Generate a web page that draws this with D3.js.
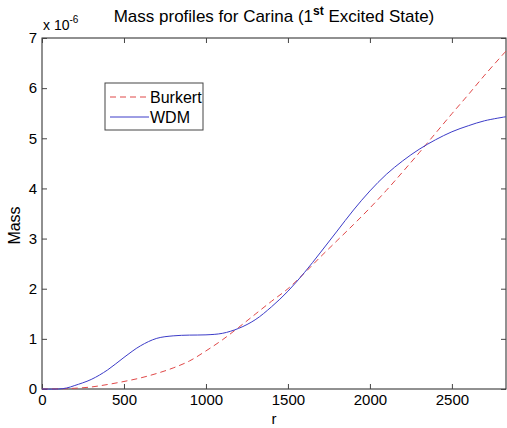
<!DOCTYPE html>
<html><head><meta charset="utf-8">
<script src="https://cdn.jsdelivr.net/npm/d3@7"></script>
<style>
body{margin:0;background:#fff;}
text{font-family:"Liberation Sans",Arial,Helvetica,sans-serif;fill:#000;}
</style></head>
<body>
<svg id="c" width="507" height="428"></svg>
<script>
const rVals = [0,100,150,200,300,400,500,600,700,800,900,1000,1100,1200,1300,1400,1500,1600,1700,1800,1900,2000,2100,2200,2300,2400,2500,2600,2700,2830];
const burkert = [0,0.003,0.008,0.015,0.04,0.09,0.15,0.22,0.31,0.42,0.56,0.76,0.98,1.23,1.49,1.75,2.00,2.31,2.64,2.96,3.28,3.61,3.96,4.33,4.71,5.10,5.49,5.87,6.26,6.74];
const wdm = [0,0,0.02,0.07,0.19,0.38,0.63,0.86,1.01,1.06,1.075,1.08,1.11,1.21,1.38,1.64,1.95,2.32,2.73,3.15,3.57,3.95,4.28,4.55,4.78,4.97,5.13,5.25,5.35,5.43];
const xTicks = [0,500,1000,1500,2000,2500];
const yTicks = [0,1,2,3,4,5,6,7];
const seriesNames = ["Burkert","WDM"];

const svg = d3.select("#c");
const L=42, R=506, T=38, B=389;
const x = d3.scaleLinear().domain([0,2830]).range([L,R]);
const y = d3.scaleLinear().domain([0,7]).range([B,T]);

const fs = 15;
svg.append("rect").attr("x",L).attr("y",T).attr("width",R-L).attr("height",B-T)
  .attr("fill","none").attr("stroke","#222").attr("stroke-width",1);

const ax = svg.append("g").attr("transform",`translate(0,${B})`)
  .call(d3.axisBottom(x).tickValues(xTicks).tickSize(-5).tickPadding(5).tickFormat(d3.format("d")));
const axT = svg.append("g").attr("transform",`translate(0,${T})`)
  .call(d3.axisTop(x).tickValues(xTicks).tickSize(-5).tickFormat(""));
const ay = svg.append("g").attr("transform",`translate(${L},0)`)
  .call(d3.axisLeft(y).tickValues(yTicks).tickSize(-5).tickPadding(5).tickFormat(d3.format("d")));
const ayR = svg.append("g").attr("transform",`translate(${R},0)`)
  .call(d3.axisRight(y).tickValues(yTicks).tickSize(-5).tickFormat(""));
[ax,axT,ay,ayR].forEach(g=>{
  g.select(".domain").remove();
  g.selectAll(".tick line").attr("stroke","#444");
  g.selectAll("text").style("font-size",fs+"px").attr("fill","#000");
});
ax.selectAll(".tick text").attr("dy","0.71em");

const line = d3.line().x((d,i)=>x(rVals[i])).y(d=>y(d)).curve(d3.curveCatmullRom.alpha(0.5));
svg.append("path").datum(burkert).attr("d",line).attr("fill","none")
  .attr("stroke","#e04848").attr("stroke-width",1).attr("stroke-dasharray","6,4");
svg.append("path").datum(wdm).attr("d",line).attr("fill","none")
  .attr("stroke","#3c3cc8").attr("stroke-width",1);

svg.append("text").attr("x",274).attr("y",22).attr("text-anchor","middle").style("font-size","17px")
  .html('Mass profiles for Carina (1<tspan dy="-7" style="font-size:12px;font-weight:bold">st</tspan><tspan dy="7"> Excited State)</tspan>');
svg.append("text").attr("x",43).attr("y",30).style("font-size","14px")
  .html('x 10<tspan dy="-7" style="font-size:10px">-6</tspan>');
svg.append("text").attr("x",274).attr("y",424).attr("text-anchor","middle").style("font-size","15px").text("r");
svg.append("text").attr("transform",`translate(20,${(T+B)/2+12}) rotate(-90)`).attr("text-anchor","middle")
  .style("font-size","16px").text("Mass");

const lg = svg.append("g");
lg.append("rect").attr("x",105).attr("y",83).attr("width",98).attr("height",47)
  .attr("fill","#fff").attr("stroke","#444").attr("stroke-width",1);
const legStyles = [{c:"#e04848",d:"6,4"},{c:"#3c3cc8",d:null}];
seriesNames.forEach((n,i)=>{
  const yy = 97 + i*20;
  lg.append("line").attr("x1",110).attr("x2",149).attr("y1",yy).attr("y2",yy)
    .attr("stroke",legStyles[i].c).attr("stroke-width",1).attr("stroke-dasharray",legStyles[i].d);
  lg.append("text").attr("x",150).attr("y",yy+5.5).style("font-size","16px").text(n);
});
</script>
</body></html>
